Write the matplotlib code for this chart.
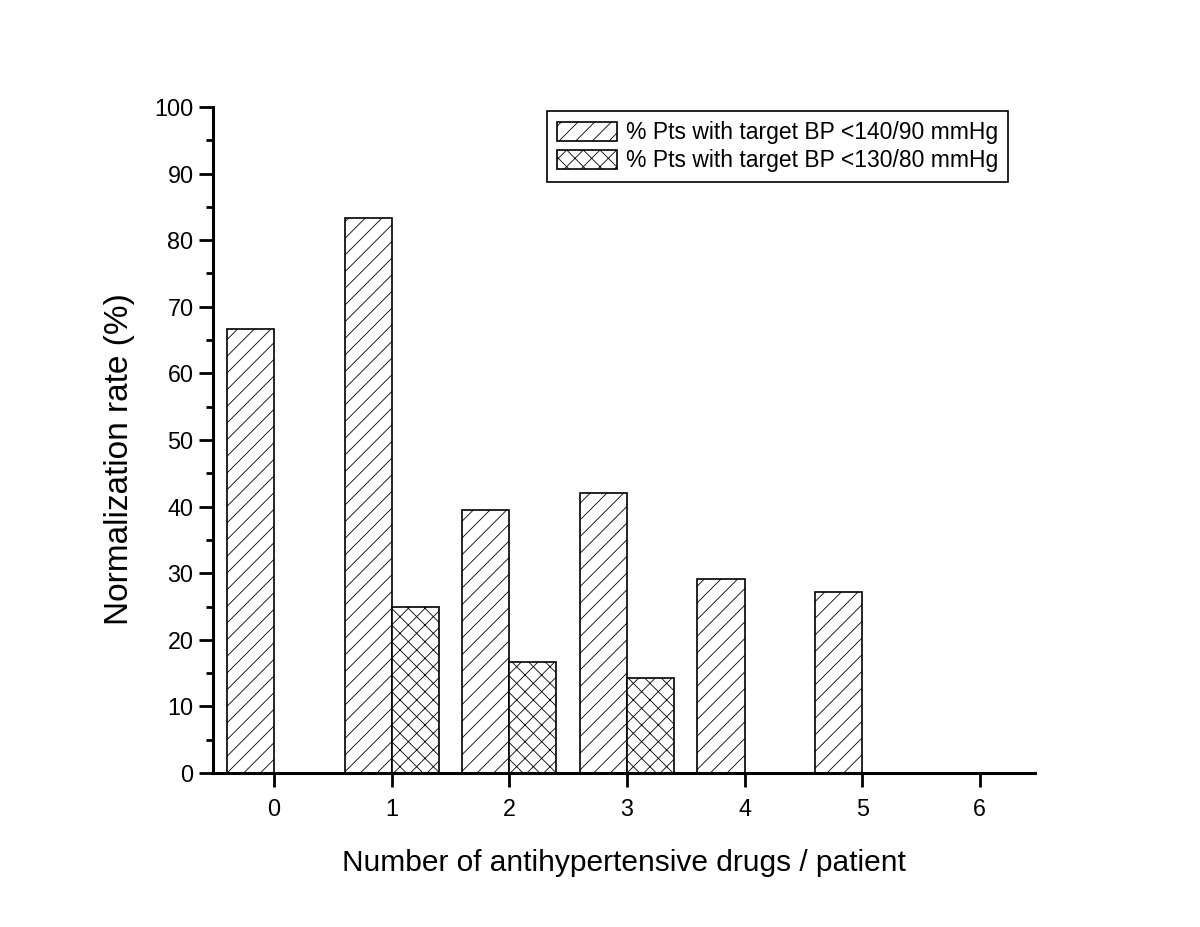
import numpy as np
import matplotlib
matplotlib.use("Agg")
import matplotlib.pyplot as plt
from matplotlib.ticker import MultipleLocator

plt.rcParams['font.family'] = ['Liberation Sans', 'DejaVu Sans']
plt.rcParams['hatch.linewidth'] = 0.6

# data
drugs = [0, 1, 2, 3, 4, 5, 6]
target_140_90 = [66.7, 83.3, 39.5, 42.1, 29.2, 27.2, 0]
target_130_80 = [0, 25.0, 16.7, 14.3, 0, 0, 0]
labels = ["% Pts with target BP <140/90 mmHg", "% Pts with target BP <130/80 mmHg"]

fig = plt.figure(figsize=(12, 9.27), dpi=100)
ax = fig.add_axes([0.1775, 0.1661, 0.685, 0.7185])

x = np.array(drugs)
w = 0.4
ax.bar(x - w, target_140_90, w, align='edge', facecolor='white',
       edgecolor='black', linewidth=1.2, hatch='//', label=labels[0])
ax.bar(x, target_130_80, w, align='edge', facecolor='white',
       edgecolor='black', linewidth=1.2, hatch='xx', label=labels[1])

ax.set_xlim(-0.52, 6.47)
ax.set_ylim(0, 100)
ax.set_xticks(drugs)
ax.yaxis.set_major_locator(MultipleLocator(10))
ax.yaxis.set_minor_locator(MultipleLocator(5))

for s in ['top', 'right']:
    ax.spines[s].set_visible(False)
for s in ['left', 'bottom']:
    ax.spines[s].set_linewidth(2.2)

ax.tick_params(axis='both', which='major', direction='out', length=10,
               width=2, labelsize=16.8)
ax.tick_params(axis='y', which='major', pad=4)
ax.tick_params(axis='x', which='major', pad=8)
ax.tick_params(axis='y', which='minor', direction='out', length=5, width=2)

ax.set_xlabel("Number of antihypertensive drugs / patient", fontsize=21.5, labelpad=20)
ax.set_ylabel("Normalization rate (%)", fontsize=24)
ax.yaxis.set_label_coords(-0.095, 0.4715)

leg = ax.legend(loc='upper right', bbox_to_anchor=(0.976, 1.004), fontsize=16.5,
                frameon=True, fancybox=False, edgecolor='black', framealpha=1,
                handlelength=2.6, handleheight=0.9, handletextpad=0.4,
                borderpad=0.45, labelspacing=0.2, borderaxespad=0.3)
leg.get_frame().set_linewidth(1.2)

fig.savefig("out.png", dpi=100, facecolor='white')
